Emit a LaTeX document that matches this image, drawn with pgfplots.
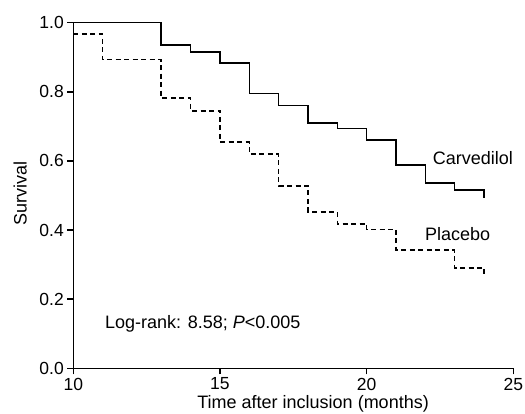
\documentclass[border=0pt]{standalone}
\usepackage{pgfplots}
\pgfplotsset{compat=1.18}
\usepackage{fontspec}
\setmainfont{Liberation Sans}

\begin{document}
\begin{tikzpicture}
\path[use as bounding box] (-73.3bp,-45.7bp) rectangle (451.7bp,368.3bp);
\begin{axis}[
 at={(0,0)},anchor=south west,
 scale only axis,width=440bp,height=345.6bp,
 xmin=10,xmax=25,ymin=0,ymax=1,
 axis lines=left,axis line style={-,line width=1.4bp},
 every tick/.style={black,line width=1.4bp},
 tick align=outside,major tick length=6bp,
 xtick={10,15,20,25},ytick={0,0.2,0.4,0.6,0.8,1.0},
 yticklabel style={/pgf/number format/.cd,fixed,fixed zerofill,precision=1},
 /pgf/number format/assume math mode=true,
 tick label style={font=\fontsize{17.5bp}{20bp}\selectfont},
 label style={font=\fontsize{18bp}{21bp}\selectfont},
 xlabel={Time after inclusion (months)},ylabel={Survival},
 xlabel style={at={(axis description cs:0.545,0)},anchor=base,yshift=-39.7bp},
 ylabel style={at={(axis description cs:-0.1205,0.507)},anchor=center},
 clip=false,
]
\addplot[black,line width=1.6bp,const plot] coordinates {
 (10,1.000) (13,0.935) (14,0.915) (15,0.884) (16,0.795) (17,0.760) (18,0.709)
 (19,0.694) (20,0.660) (21,0.589) (22,0.536) (23,0.516) (24,0.492)};
\addplot[black,line width=1.6bp,const plot,dash pattern=on 5bp off 3.5bp] coordinates {
 (10,0.967) (11,0.893) (13,0.782) (14,0.745) (15,0.654) (16,0.620) (17,0.528)
 (18,0.453) (19,0.418) (20,0.402) (21,0.342) (23,0.291) (24,0.267)};
\node[anchor=base west,inner sep=0pt,font=\fontsize{18bp}{21bp}\selectfont] at (axis cs:22.25,0.589) {Carvedilol};
\node[anchor=base west,inner sep=0pt,font=\fontsize{18bp}{21bp}\selectfont] at (axis cs:21.99,0.371) {Placebo};
\node[anchor=base west,inner sep=0pt,font=\fontsize{18bp}{21bp}\selectfont] at (axis cs:11.08,0.116) {Log-rank: 8.58; \textit{P}<0.005};
\end{axis}
\end{tikzpicture}
\end{document}
